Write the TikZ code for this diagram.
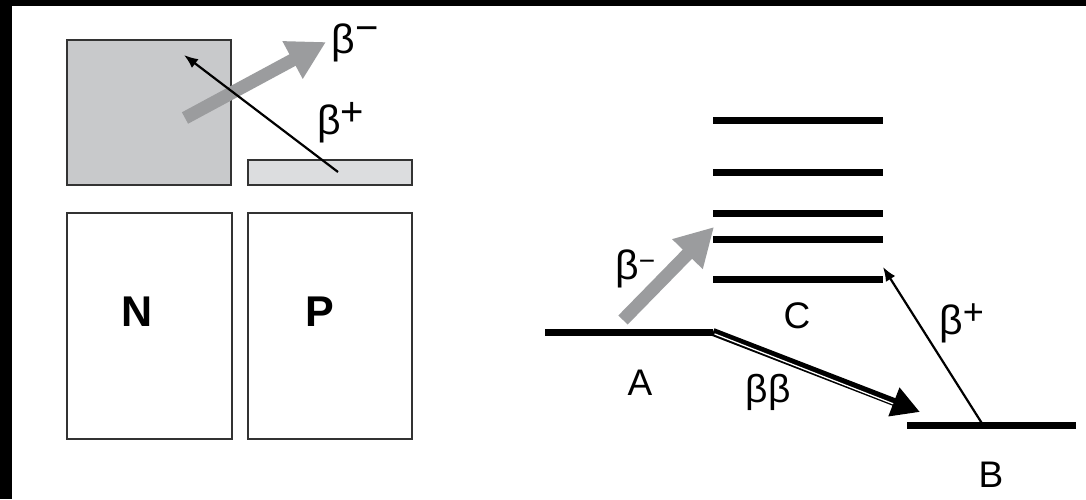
\documentclass[tikz,border=0pt]{standalone}
\usepackage{fontspec}
\setmainfont{Liberation Sans}
\usetikzlibrary{arrows.meta,calc}
\definecolor{sqgray}{HTML}{C8C9CB}
\definecolor{lightgray2}{HTML}{DCDDDF}
\definecolor{arrgray}{HTML}{9B9C9E}
\definecolor{edge}{HTML}{333333}
\begin{document}
\begin{tikzpicture}[x=1pt,y=-1pt,
  box/.style={draw=edge, line width=1.5pt, inner sep=0pt, outer sep=0pt},
  level/.style={line width=7pt, black},
  grayarrow/.style={arrgray, line width=13pt, -{Triangle[length=38pt,width=40pt]}},
  thinarrow/.style={line width=2.2pt, -{Latex[length=14pt,width=11pt]}},
  bbarrow/.style={line width=8pt, -{Triangle[length=28pt,width=29pt]}},
  lbl/.style={inner sep=0pt, font=\fontsize{37}{37}\selectfont},
  blbl/.style={inner sep=0pt, anchor=base west, font=\fontsize{41}{41}\selectfont},
  nplbl/.style={inner sep=0pt, font=\fontsize{43}{43}\selectfont\bfseries}]
\useasboundingbox (0,0) rectangle (1086,499);
\fill[white] (0,0) rectangle (1086,499);
\fill[black] (0,0) rectangle (1086,6);
\fill[black] (0,0) rectangle (12,499);

% left part: boxes
\node[box, fill=sqgray, minimum width=164pt, minimum height=145pt] (sq) at (149,112.5) {};
\node[box, fill=lightgray2, minimum width=164pt, minimum height=25pt] (strip) at (330,172.5) {};
\node[box, fill=white, minimum width=165pt, minimum height=226pt] (nbox) at (149.5,326) {};
\node[box, fill=white, minimum width=164pt, minimum height=226pt] (pbox) at (330,326) {};
\node[nplbl] (N) at (137,312) {N};
\node[nplbl] (P) at (320,312) {P};

% left arrows
\coordinate (gl0) at (185,118);
\coordinate (gl1) at (326,42);
\coordinate (tl0) at (338,172);
\coordinate (tl1) at (184,55);
\draw[grayarrow] (gl0) -- (gl1);
\draw[thinarrow] (tl0) -- (tl1);
\node[blbl] (bmL) at (331,53) {β\kern1pt\raisebox{11.5pt}{\fontsize{40}{40}\selectfont −}};
\node[blbl] (bpL) at (317,134) {β\raisebox{8.5pt}{\fontsize{40}{40}\selectfont +}};

% right part: levels
\coordinate (C1a) at (713,279); \coordinate (C1b) at (883,279);
\coordinate (C2a) at (713,239); \coordinate (C2b) at (883,239);
\coordinate (C3a) at (713,213); \coordinate (C3b) at (883,213);
\coordinate (C4a) at (713,172); \coordinate (C4b) at (883,172);
\coordinate (C5a) at (713,120); \coordinate (C5b) at (883,120);
\coordinate (A1) at (545,332); \coordinate (A2) at (713,332);
\coordinate (B1) at (907,425); \coordinate (B2) at (1076,425);
\foreach \i in {1,...,5} {\draw[level] (C\i a) -- (C\i b);}
\draw[level] (A1) -- (A2);
\draw[level] (B1) -- (B2);

% right arrows
\coordinate (gr0) at (623,320);
\coordinate (gr1) at (714,227);
\draw[grayarrow] (gr0) -- (gr1);

\coordinate (bbtip) at (920,412);
\coordinate (bbbase) at ($(bbtip)!28pt!(A2)$);
\draw[bbarrow] (A2) -- (bbtip);
\draw[white, line width=1.3pt] ($(A2)+(1.5,1.9)$) -- ($(bbbase)+(-0.7,1.9)$);

\coordinate (bpfoot) at (983,425);
\coordinate (bptip) at (883,267);
\draw[thinarrow] (bpfoot) -- (bptip);

% labels
\node[lbl, anchor=base] (Alab) at (640,395) {A};
\node[lbl, anchor=base] (Blab) at (991,487) {B};
\node[lbl, anchor=base] (Clab) at (797,328) {C};
\node[inner sep=0pt, anchor=base, font=\fontsize{39}{39}\selectfont] (bblab) at (768,402) {ββ};
\node[blbl] (bmR) at (615,279) {β\raisebox{9pt}{\fontsize{28}{28}\selectfont −}};
\node[blbl] (bpR) at (939,334) {β\raisebox{10pt}{\fontsize{36}{36}\selectfont +}};
\end{tikzpicture}
\end{document}
